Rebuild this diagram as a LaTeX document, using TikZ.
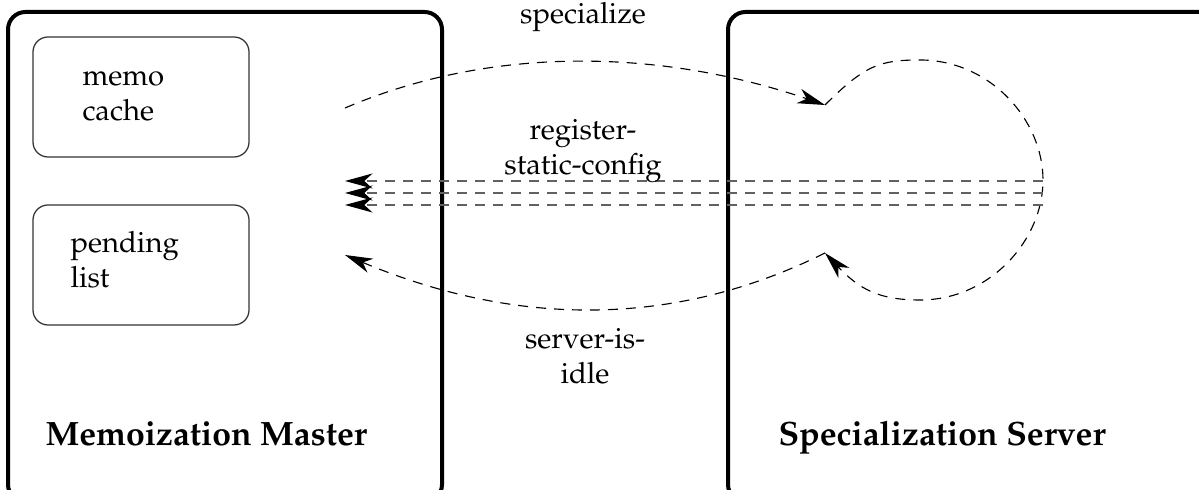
\documentclass[tikz,border=0pt]{standalone}
\usepackage[T1]{fontenc}
\usepackage{mathpazo}
\usetikzlibrary{arrows.meta}
\begin{document}
\begin{tikzpicture}[x=0.4pt,y=-0.4pt,
  txt/.style={font=\fontsize{11.7}{14}\selectfont, inner sep=0pt},
  title/.style={font=\fontsize{13.5}{16}\selectfont\bfseries, inner sep=0pt, anchor=base west},
  bigbox/.style={draw, line width=1.6pt, rounded corners=7pt, inner sep=0pt, outer sep=0pt, anchor=north west},
  smallbox/.style={draw=black!80, line width=0.5pt, rounded corners=6pt, inner sep=0pt, outer sep=0pt, anchor=north west,
    minimum width=86.4pt, minimum height=48pt},
  tip/.style={-{Stealth[length=11pt, width=6pt, inset=3.3pt, color=black]}},
  flow/.style={dashed, dash pattern=on 4pt off 3.2pt, line width=0.45pt, tip},
  reg/.style={draw=black!62, dashed, dash pattern=on 4pt off 3.2pt, line width=0.6pt, tip}
]
\useasboundingbox (0,0) rectangle (1199,490);
\clip (0,0) rectangle (1199,490);

% the two processes
\node[bigbox, minimum width=173.6pt, minimum height=196pt] (master) at (8,12) {};
\node[bigbox, minimum width=196.8pt, minimum height=196pt] (server) at (728,12) {};
\node[title] (mastertitle) at (45,446) {Memoization Master};
\node[title] (servertitle) at (778,446) {Specialization Server};

% tables kept by the master
\node[smallbox] (memo) at (33,37) {};
\node[smallbox] (pending) at (33,205) {};
\node[txt, align=left, anchor=base west] (memotext) at (82,121) {memo\\cache};
\node[txt, align=left, anchor=base west] (pendingtext) at (70,288) {pending\\list};

% message end points
\coordinate (spA) at (345,108);
\coordinate (spB) at (825,105);
\coordinate (idA) at (825,253);
\coordinate (idB) at (345,255);
\coordinate (rTop) at (920,60);
\coordinate (rRight) at (1043,180);
\coordinate (rBot) at (920,300);
\coordinate (g1a) at (1043,181);
\coordinate (g1b) at (345,181);
\coordinate (g2a) at (1043,193);
\coordinate (g2b) at (345,193);
\coordinate (g3a) at (1043,205);
\coordinate (g3b) at (345,205);

% specialize request
\draw[flow] (spA) .. controls (500,42) and (670,52) .. (spB);
% work done inside the server
\draw[flow] (spB) .. controls (865,65) and (880,60) .. (rTop)
  .. controls (990,60) and (1043,120) .. (rRight)
  .. controls (1043,240) and (990,300) .. (rBot)
  .. controls (880,300) and (860,290) .. (idA);
% idle notification
\draw[flow] (idA) .. controls (660,335) and (500,320) .. (idB);
% static configuration registrations
\draw[reg] (g1a) -- (g1b);
\draw[reg] (g2a) -- (g2b);
\draw[reg] (g3a) -- (g3b);

% message labels
\node[txt, anchor=base] (lsp) at (583,24) {specialize};
\node[txt, align=center, anchor=base] (lreg) at (583,175) {register-\\static-config};
\node[txt, align=center, anchor=base] (lidle) at (585,384) {server-is-\\idle};
\end{tikzpicture}
\end{document}
